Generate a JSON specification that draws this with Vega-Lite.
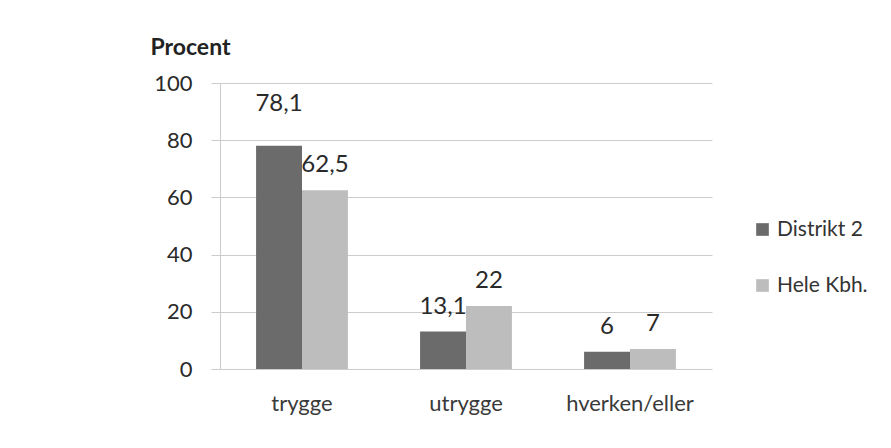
{
  "$schema": "https://vega.github.io/schema/vega-lite/v6.json",
  "autosize": {"type": "none"},
  "padding": {"left": 220, "top": 83, "right": 179, "bottom": 79},
  "width": 492,
  "height": 286,
  "background": "white",
  "config": {
    "font": "Lato",
    "view": {"stroke": null},
    "locale": {"number": {"decimal": ",", "thousands": ".", "grouping": [3], "currency": ["", " kr."]}}
  },
  "data": {
    "values": [
      {"kategori": "trygge", "gruppe": "Distrikt 2", "procent": 78.1},
      {"kategori": "trygge", "gruppe": "Hele Kbh.", "procent": 62.5},
      {"kategori": "utrygge", "gruppe": "Distrikt 2", "procent": 13.1},
      {"kategori": "utrygge", "gruppe": "Hele Kbh.", "procent": 22},
      {"kategori": "hverken/eller", "gruppe": "Distrikt 2", "procent": 6},
      {"kategori": "hverken/eller", "gruppe": "Hele Kbh.", "procent": 7}
    ]
  },
  "encoding": {
    "x": {
      "field": "kategori", "type": "nominal",
      "sort": ["trygge", "utrygge", "hverken/eller"],
      "scale": {"paddingInner": 0.44, "paddingOuter": 0.22},
      "axis": {"title": null, "labelAngle": 0, "domain": false, "ticks": false, "labelPadding": 24, "labelFontSize": 22, "labelColor": "#3a3a3a", "labelFont": "Lato"}
    },
    "xOffset": {"field": "gruppe", "type": "nominal", "sort": ["Distrikt 2", "Hele Kbh."], "scale": {"paddingInner": 0, "paddingOuter": 0}},
    "y": {
      "field": "procent", "type": "quantitative",
      "scale": {"domain": [0, 100], "nice": false},
      "axis": {
        "title": "Procent", "titleAngle": 0, "titleX": -30, "titleY": -36, "titleAlign": "center", "titleBaseline": "middle",
        "titleFontSize": 23, "titleFontWeight": "bold", "titleColor": "#222", "titleFont": "Lato",
        "values": [0, 20, 40, 60, 80, 100], "grid": true, "gridColor": "#cccccc", "domain": true, "domainColor": "#cccccc",
        "ticks": true, "tickSize": 9, "tickColor": "#cccccc", "labelPadding": 19, "labelFontSize": 22, "labelColor": "#2a2a2a", "labelFont": "Lato"
      }
    }
  },
  "layer": [
    {
      "mark": {"type": "bar"},
      "encoding": {
        "color": {
          "field": "gruppe", "type": "nominal",
          "scale": {"domain": ["Distrikt 2", "Hele Kbh."], "range": ["#6b6b6b", "#bdbdbd"]},
          "legend": {
            "title": null, "orient": "none", "legendX": 532, "legendY": 136, "symbolType": "square", "symbolSize": 160,
            "symbolStrokeWidth": 0, "labelFontSize": 21, "labelColor": "#333", "labelFont": "Lato", "rowPadding": 34, "labelOffset": 4
          }
        }
      }
    },
    {
      "transform": [{"filter": "datum.procent != 78.1"}],
      "mark": {"type": "text", "baseline": "alphabetic", "dy": -18, "fontSize": 24, "color": "#2a2a2a", "font": "Lato"},
      "encoding": {"text": {"field": "procent", "type": "quantitative", "format": "~g"}}
    },
    {
      "transform": [{"filter": "datum.procent == 78.1"}],
      "mark": {"type": "text", "baseline": "alphabetic", "dy": -35, "fontSize": 24, "color": "#2a2a2a", "font": "Lato"},
      "encoding": {"text": {"field": "procent", "type": "quantitative", "format": "~g"}}
    }
  ]
}
